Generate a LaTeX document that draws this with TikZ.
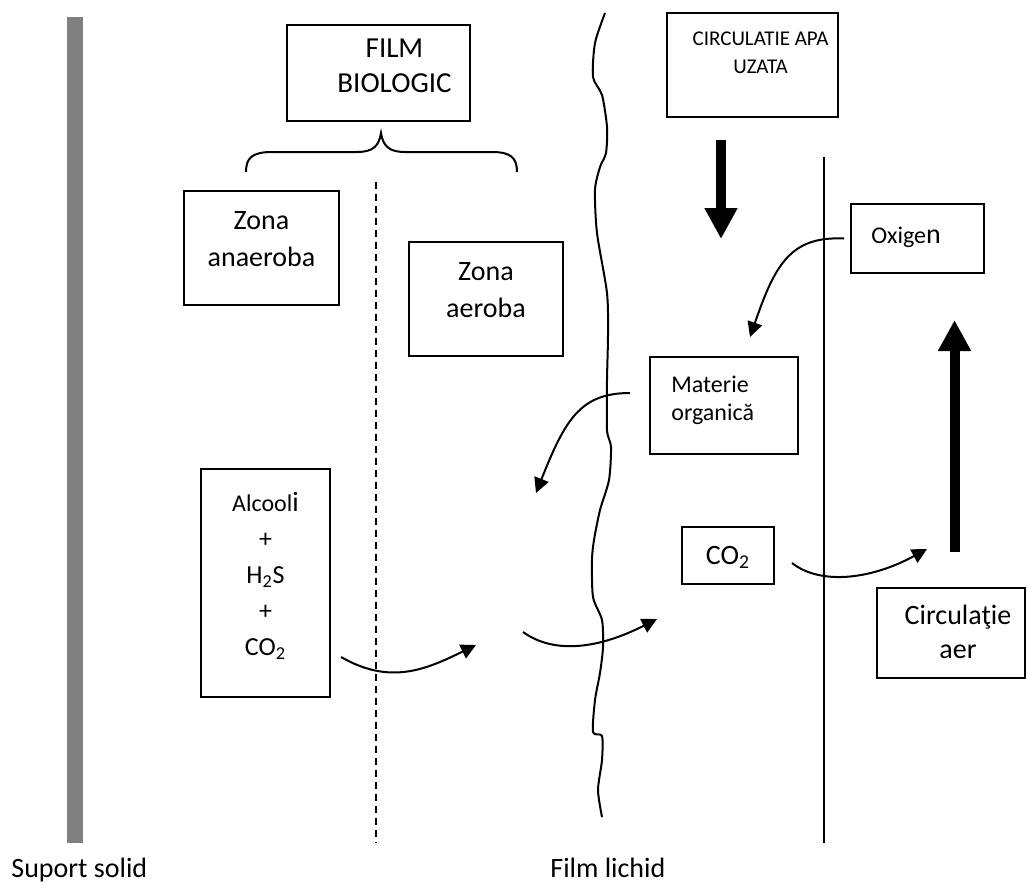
\documentclass[tikz,border=0pt]{standalone}
\usepackage{fontspec}
\setmainfont{Carlito}
\usetikzlibrary{arrows.meta,positioning,calc}

\begin{document}
\begin{tikzpicture}[x=0.5pt,y=-0.5pt,
  box/.style={draw,line width=1pt,inner sep=0pt},
  txt/.style={inner sep=0pt,align=center},
  arr/.style={-{Triangle[length=7.5pt,width=7.5pt]},line width=1pt},
  bigarr/.style={-{Triangle[length=15.5pt,width=15.5pt]},line width=5pt},
  zone/.style={line width=1pt}
]
\useasboundingbox (0,0) rectangle (1027,884);

% Solid support, biofilm limit, liquid film, air limit
\fill[black!50] (67,17) rectangle (83,843);
\draw[zone,dash pattern=on 3.5pt off 2.5pt] (376,182) -- (376,843);
\draw[zone] (824,157) -- (824,843);
\draw[zone] plot[smooth,tension=0.45] coordinates {(605,13) (595,43) (593,77) (602,95)
  (607,127) (606,153) (600,167) (595,190) (597,233) (607,293) (608,335) (607,380)
  (607,430) (611,447) (609,480) (600,510) (594,540) (592,560) (593,597) (602,620)
  (603,647) (600,673) (595,700) (593,732) (602,736) (602,760) (598,790) (602,817)};

% Brace under the biofilm box
\draw[zone] (246,172) .. controls (246,158) and (252,152) .. (272,152) -- (357,152)
  .. controls (373,152) and (379,146) .. (381,133)
  .. controls (383,146) and (389,152) .. (405,152) -- (492,152)
  .. controls (511,152) and (517,158) .. (517,172);

% Boxes
\node[box,minimum width=91.5pt,minimum height=48pt] (film) at (378.5,73) {};
\node[box,minimum width=85.5pt,minimum height=52pt] (apa)  at (752.5,65) {};
\node[box,minimum width=77.5pt,minimum height=57pt] (zan)  at (261.5,248) {};
\node[box,minimum width=77pt,minimum height=57pt]   (zae)  at (486,299) {};
\node[box,minimum width=64.5pt,minimum height=114pt] (alc) at (265.5,583) {};
\node[box,minimum width=74pt,minimum height=48.5pt] (mat)  at (724,405.5) {};
\node[box,minimum width=46pt,minimum height=28.5pt,text depth=0pt,font=\fontsize{14}{16}\selectfont]
  (co2) at (728,555.5) {CO\textsubscript{2}};
\node[box,minimum width=66.5pt,minimum height=34.5pt] (oxi) at (917.5,238.5) {};
\node[box,minimum width=74pt,minimum height=45pt]   (aer)  at (951,633) {};

% Box texts
\node[txt,below=7pt of {$(film.north)+(16,0)$},font=\fontsize{14.5}{17.5}\selectfont] (filmtxt) {FILM\\BIOLOGIC};
\node[txt,below=9.5pt of {$(apa.north)+(8,0)$},font=\fontsize{10.5}{14}\selectfont] (apatxt) {CIRCULATIE APA\\UZATA};
\node[txt,below=10.5pt of zan.north,font=\fontsize{14}{18.5}\selectfont] (zantxt) {Zona\\anaeroba};
\node[txt,below=10.5pt of zae.north,font=\fontsize{14}{18.5}\selectfont] (zaetxt) {Zona\\aeroba};
\node[txt,below=12pt of alc.north,font=\fontsize{13}{18}\selectfont] (alctxt)
  {{\fontsize{12}{18}\selectfont Alcool}{\fontsize{14}{18}\selectfont i}\\+\\H\textsubscript{2}S\\+\\CO\textsubscript{2}};
\node[txt,align=left,below right=10pt and 11pt of mat.north west,font=\fontsize{12}{14}\selectfont] (mattxt) {Materie\\organică};
\node[txt,below right=12pt and 10.5pt of oxi.north west,font=\fontsize{12}{14}\selectfont] (oxitxt)
  {Oxige{\fontsize{14}{14}\selectfont n}};
\node[txt,below=9pt of {$(aer.north)+(7,0)$},font=\fontsize{14}{17}\selectfont] (aertxt) {Circulaţie\\aer};

% Bottom labels
\node[txt,anchor=base west,font=\fontsize{14}{16}\selectfont] (suport) at (11,877) {Suport solid};
\node[txt,anchor=base west,font=\fontsize{14}{16}\selectfont] (lichid) at (550,877) {Film lichid};

% Flow arrows
\coordinate (oxs) at ([xshift=-3pt]oxi.west);
\coordinate (oxe) at (750,337);
\coordinate (mts) at (630,393);
\coordinate (mte) at (536,493);
\coordinate (als) at (341,657);
\coordinate (ale) at (476,645);
\coordinate (fls) at (523,632);
\coordinate (fle) at (657,619);
\coordinate (cos) at (792,563);
\coordinate (coe) at (927,549);
\draw[arr] (oxs) .. controls (790,236) and (775,265) .. (oxe);
\draw[arr] (mts) .. controls (580,393) and (565,420) .. (mte);
\draw[arr] (als) .. controls (390,685) and (425,670) .. (ale);
\draw[arr] (fls) .. controls (555,655) and (600,648) .. (fle);
\draw[arr] (cos) .. controls (820,585) and (870,580) .. (coe);

% Thick arrows: waste water down, air up
\coordinate (apas) at (721,140);
\coordinate (apae) at (721,239);
\coordinate (aers) at (954.5,552);
\coordinate (aere) at (954.5,320);
\draw[bigarr] (apas) -- (apae);
\draw[bigarr] (aers) -- (aere);
\end{tikzpicture}
\end{document}
